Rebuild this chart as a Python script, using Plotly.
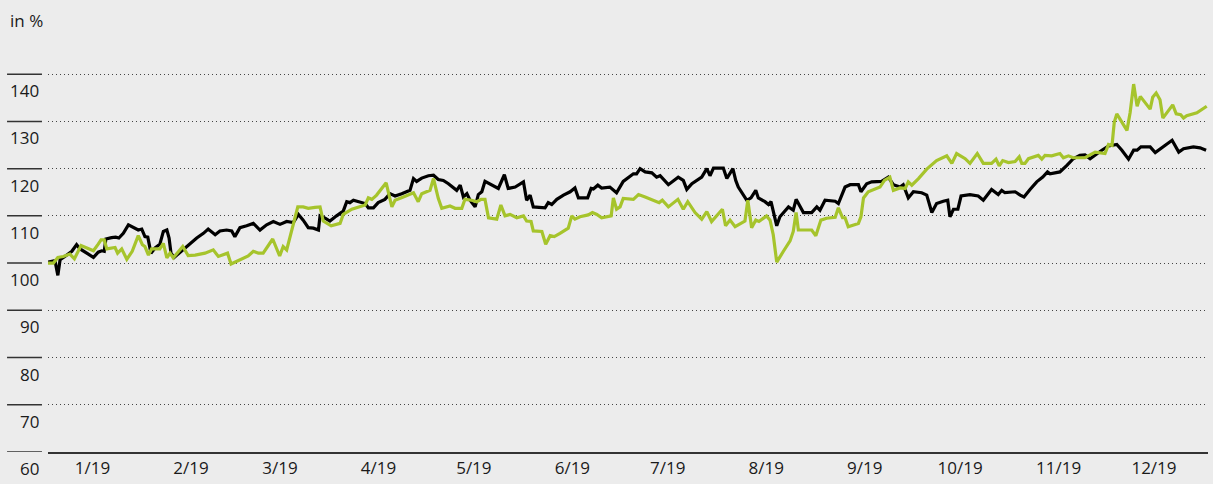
'''
    Index chart: two price series (2019), indexed to 100, shown in percent.
'''

import pandas as pd
import plotly.graph_objects as go


# days after 1 Jan 2019 and index values (in %)
black_days = [0, 2.2, 3.1, 3.8, 5.3, 7.5, 9.0, 10.1, 12.2, 14.3, 15.8, 16.9, 17.7, 18.2, 20.0,
              21.3, 22.3, 23.7, 25.3, 26.8, 28.4, 29.5, 30.5, 31.4, 32.4, 33.7, 35.2, 36.3,
              37.4, 38.1, 38.7, 39.7, 42.1, 44.1, 46.8, 48.9, 50.4, 52.6, 54.1, 56.2, 57.8,
              58.8, 60.4, 62.5, 64.6, 66.7, 68.8, 70.9, 73.0, 75.1, 77.2, 78.8, 80.3, 81.9,
              83.5, 85.1, 85.6, 87.2, 88.7, 90.8, 92.9, 94.0, 95.0, 96.1, 98.2, 99.8, 100.8,
              102.4, 103.9, 106.0, 107.6, 109.2, 111.3, 113.9, 115.0, 116.0, 117.6, 119.7,
              121.3, 122.8, 124.4, 126.0, 128.6, 129.7, 130.7, 131.8, 132.8, 134.4, 135.4,
              136.5, 137.5, 139.6, 141.7, 143.6, 144.8, 147.0, 149.6, 150.6, 151.7, 152.7,
              156.4, 157.4, 158.5, 160.1, 162.2, 164.3, 165.8, 166.9, 169.8, 170.9, 171.6,
              173.0, 174.2, 176.8, 178.9, 181.0, 182.6, 184.2, 185.2, 186.3, 187.9, 190.0,
              191.5, 192.6, 195.2, 198.3, 199.9, 201.0, 202.6, 205.7, 207.3, 208.3, 209.4,
              212.5, 213.6, 215.5, 216.4, 217.2, 219.9, 221.2, 222.7, 223.5, 225.6, 226.7,
              227.5, 229.3, 230.3, 233.0, 234.5, 235.4, 237.7, 240.3, 241.9, 242.9, 244.5,
              247.7, 248.7, 250.8, 252.4, 255.0, 255.8, 257.6, 259.2, 262.3, 264.4, 266.0,
              268.1, 269.1, 270.7, 272.3, 274.9, 276.5, 278.1, 279.6, 281.7, 283.1, 283.8,
              284.9, 286.3, 287.3, 290.1, 292.7, 294.3, 296.9, 299.0, 300.1, 301.1, 304.3,
              305.9, 307.1, 309.0, 311.1, 313.0, 314.5, 315.3, 318.4, 320.6, 322.6, 324.7,
              326.3, 327.9, 330.0, 331.6, 333.7, 336.3, 337.9, 340.0, 341.6, 342.7, 343.9,
              346.8, 348.4, 351.0, 353.7, 355.8, 357.3, 360.4, 362.5, 364.4]
black_values = [100.2, 100.5, 97.4, 100.7, 101.4, 102.5, 103.9, 103.0, 102.1, 101.2, 102.3,
                102.6, 102.5, 105.1, 105.4, 105.5, 105.3, 106.3, 108.1, 107.5, 107.0, 107.2,
                105.6, 105.5, 102.1, 103.2, 104.0, 106.7, 107.0, 105.3, 102.1, 101.2, 102.6,
                103.7, 105.3, 106.3, 107.2, 106.0, 106.8, 107.0, 106.8, 105.6, 107.5, 107.9,
                108.4, 107.0, 108.1, 108.8, 108.2, 108.8, 108.6, 110.3, 109.1, 107.5, 107.4,
                107.0, 110.0, 109.5, 108.9, 110.0, 111.0, 113.0, 112.8, 113.3, 113.0, 112.6,
                111.7, 111.7, 112.8, 113.5, 114.7, 114.2, 114.7, 115.4, 117.9, 117.3, 118.0,
                118.5, 118.6, 117.7, 117.5, 116.8, 115.4, 116.5, 114.0, 114.7, 113.3, 111.9,
                114.5, 115.1, 117.3, 116.5, 115.8, 118.7, 115.8, 116.1, 117.2, 113.3, 114.4,
                111.9, 111.7, 112.8, 112.4, 113.5, 114.4, 115.1, 115.9, 113.8, 113.8, 115.8,
                115.7, 116.5, 115.9, 116.1, 114.9, 117.3, 118.2, 118.9, 118.9, 120.0, 119.3,
                119.1, 118.2, 118.5, 116.6, 118.2, 117.5, 115.6, 116.8, 118.2, 120.0, 118.5,
                120.1, 120.1, 117.9, 120.0, 117.5, 116.1, 113.3, 113.8, 115.4, 113.8, 113.0,
                112.4, 113.0, 107.9, 109.8, 111.9, 111.2, 113.5, 110.7, 110.7, 111.9, 111.2,
                113.3, 113.1, 112.6, 116.1, 116.6, 116.6, 115.1, 116.8, 117.2, 117.3, 118.2,
                116.6, 116.1, 116.6, 113.8, 115.1, 114.9, 114.4, 110.7, 112.6, 113.1, 113.3,
                109.8, 111.4, 111.4, 114.2, 114.5, 114.2, 113.3, 115.6, 114.5, 115.4, 114.9,
                115.1, 114.4, 114.0, 115.6, 117.2, 118.2, 119.3, 118.9, 119.3, 120.7, 122.1,
                122.8, 122.9, 122.1, 123.2, 123.9, 124.8, 125.1, 123.9, 122.0, 123.9, 123.9,
                124.6, 124.6, 123.4, 124.6, 126.0, 123.5, 124.2, 124.6, 124.4, 123.9]

green_days = [0, 1.7, 3.1, 4.8, 6.9, 8.3, 10.4, 12.2, 14.3, 15.8, 16.7, 17.7, 18.5, 21.1,
              21.9, 23.2, 24.8, 26.5, 28.4, 29.7, 30.5, 31.6, 32.6, 35.2, 36.3, 37.4, 38.4,
              39.4, 41.0, 42.4, 44.1, 46.3, 49.4, 52.0, 53.6, 56.5, 57.6, 58.8, 61.0, 63.0,
              64.6, 66.2, 67.7, 70.7, 72.9, 74.0, 75.1, 76.7, 78.6, 80.3, 81.9, 84.0, 85.6,
              86.6, 89.1, 91.9, 92.9, 95.6, 98.2, 99.8, 100.8, 101.9, 103.4, 105.0, 106.4,
              108.2, 109.2, 111.8, 115.0, 116.5, 117.6, 120.2, 121.3, 122.8, 123.9, 126.5,
              128.1, 130.2, 131.2, 133.3, 134.9, 136.3, 137.5, 138.6, 141.2, 142.5, 143.8,
              145.4, 147.5, 149.6, 150.6, 152.0, 152.7, 155.4, 156.6, 158.0, 159.3, 161.1,
              163.7, 164.8, 165.8, 167.4, 170.0, 171.3, 172.7, 174.2, 177.2, 177.9, 178.9,
              180.0, 181.0, 184.2, 185.8, 187.9, 190.5, 192.3, 193.3, 195.2, 198.2, 199.9,
              201.3, 203.6, 205.7, 207.3, 208.8, 212.2, 213.2, 214.6, 216.2, 217.7, 219.3,
              220.2, 221.4, 222.7, 223.7, 226.1, 227.2, 228.2, 229.3, 231.4, 233.5, 234.5,
              235.4, 236.1, 240.3, 241.6, 243.2, 245.0, 247.7, 248.7, 250.0, 250.8, 251.8,
              255.0, 255.8, 256.6, 258.1, 261.8, 263.2, 264.9, 266.0, 268.1, 269.7, 270.7,
              271.8, 273.9, 276.5, 279.6, 282.8, 284.4, 285.9, 288.6, 290.1, 292.4, 294.3,
              296.9, 298.3, 299.3, 300.4, 302.2, 304.3, 305.6, 306.4, 307.4, 308.5, 311.6,
              312.7, 313.7, 315.8, 318.4, 319.5, 321.1, 322.6, 326.3, 329.5, 332.6, 333.7,
              334.8, 335.5, 336.3, 339.5, 340.5, 341.6, 342.7, 343.7, 346.8, 347.6, 348.7,
              349.9, 350.8, 353.9, 355.0, 356.4, 357.3, 358.3, 361.5, 364.6]
green_values = [100.0, 100.0, 101.2, 101.4, 101.9, 100.9, 103.7, 103.2, 102.6, 104.0, 104.9,
                104.9, 103.0, 103.3, 102.1, 103.0, 100.8, 102.5, 105.8, 103.9, 103.5, 101.7,
                103.0, 103.0, 104.2, 101.1, 102.1, 101.1, 102.3, 103.5, 101.6, 101.7, 102.1,
                102.8, 101.4, 102.1, 99.8, 100.2, 100.9, 101.5, 102.5, 102.1, 102.1, 105.1,
                101.5, 103.5, 102.8, 107.0, 111.9, 111.9, 111.6, 111.8, 111.9, 108.9, 107.9,
                108.4, 110.3, 111.4, 111.9, 112.3, 113.8, 113.5, 114.4, 115.8, 117.0, 111.9,
                113.3, 114.0, 114.9, 113.0, 114.7, 115.4, 117.9, 113.7, 111.6, 112.1, 111.6,
                111.6, 113.5, 113.3, 113.0, 113.5, 113.5, 109.6, 109.3, 112.3, 110.0, 110.3,
                109.6, 110.0, 108.9, 108.8, 106.8, 106.7, 104.0, 105.8, 105.6, 106.3, 107.4,
                110.0, 109.3, 109.8, 110.2, 110.7, 110.3, 109.6, 110.0, 113.8, 111.4, 111.9,
                113.7, 113.5, 114.5, 114.0, 113.3, 112.8, 113.3, 111.9, 113.5, 111.4, 113.0,
                110.7, 109.3, 110.9, 108.8, 111.4, 107.9, 109.1, 107.7, 108.2, 108.9, 113.3,
                107.5, 109.1, 108.8, 110.0, 109.1, 106.0, 100.2, 102.5, 104.7, 106.7, 110.7,
                107.0, 107.0, 105.8, 109.1, 109.5, 109.7, 111.7, 109.6, 109.6, 107.7, 108.4,
                109.8, 113.8, 115.1, 116.1, 117.5, 118.2, 115.4, 115.9, 115.8, 117.2, 116.5,
                117.9, 119.9, 121.7, 122.7, 121.1, 123.2, 122.1, 121.1, 123.2, 121.1, 121.1,
                122.0, 120.6, 121.7, 121.3, 121.5, 122.5, 121.1, 121.1, 122.1, 122.8, 122.0,
                122.8, 122.7, 123.2, 122.3, 122.7, 122.3, 122.3, 123.5, 123.2, 125.1, 124.9,
                129.8, 131.6, 128.1, 131.9, 137.9, 133.2, 135.3, 132.6, 135.1, 136.0, 134.6,
                130.7, 133.5, 131.6, 131.4, 130.7, 131.2, 131.8, 133.2]

month_labels = ["1/19", "2/19", "3/19", "4/19", "5/19", "6/19",
                "7/19", "8/19", "9/19", "10/19", "11/19", "12/19"]
y_ticks = [60, 70, 80, 90, 100, 110, 120, 130, 140]

START = pd.Timestamp("2019-01-01")
BG = "#ececec"
FONT = "Open Sans, Noto Sans, sans-serif"


def to_dates(days):
    return [START + pd.Timedelta(days=d) for d in days]


fig = go.Figure()

fig.add_trace(go.Scatter(x=to_dates(black_days), y=black_values, mode="lines",
                         line=dict(color="#000000", width=3.2), name="black"))
fig.add_trace(go.Scatter(x=to_dates(green_days), y=green_values, mode="lines",
                         line=dict(color="#a6c42c", width=3.2), name="green"))

fig.update_layout(
    width=1213, height=484,
    margin=dict(l=48, r=5, t=60, b=28),
    paper_bgcolor=BG, plot_bgcolor=BG,
    showlegend=False,
    font=dict(family=FONT, size=17, color="#1a1a1a"),
)

fig.update_xaxes(
    range=[START, START + pd.Timedelta(days=365)],
    tickvals=[pd.Timestamp(2019, m, 15) for m in range(1, 13)],
    ticktext=month_labels,
    showgrid=False, zeroline=False, ticks="",
    showline=True, linecolor="#333333", linewidth=2,
)
fig.update_yaxes(
    range=[60, 143], tickvals=y_ticks, showticklabels=False,
    showgrid=True, gridcolor="#444444", gridwidth=1, griddash="1px,3px",
    zeroline=False, showline=False, ticks="",
)

# short rule above each value label, label sits under it on the left
for v in y_ticks:
    fig.add_shape(type="line", xref="paper", yref="y", x0=-0.0353, x1=-0.0052,
                  y0=v, y1=v, line=dict(color="#333333", width=1.5))
    fig.add_annotation(xref="paper", yref="y", x=-0.0062, y=v, text=str(v),
                       xanchor="right", yanchor="top", yshift=-3, showarrow=False)

fig.add_annotation(xref="paper", yref="paper", x=-0.0345, y=1.101, text="in %",
                   xanchor="left", yanchor="middle", showarrow=False)

# drop the page's default body margin so the figure fills the window
fig.write_html("out.html",
               config={"displayModeBar": False},
               post_script="document.body.style.margin='0';"
                           "document.body.style.background='#ececec';")
